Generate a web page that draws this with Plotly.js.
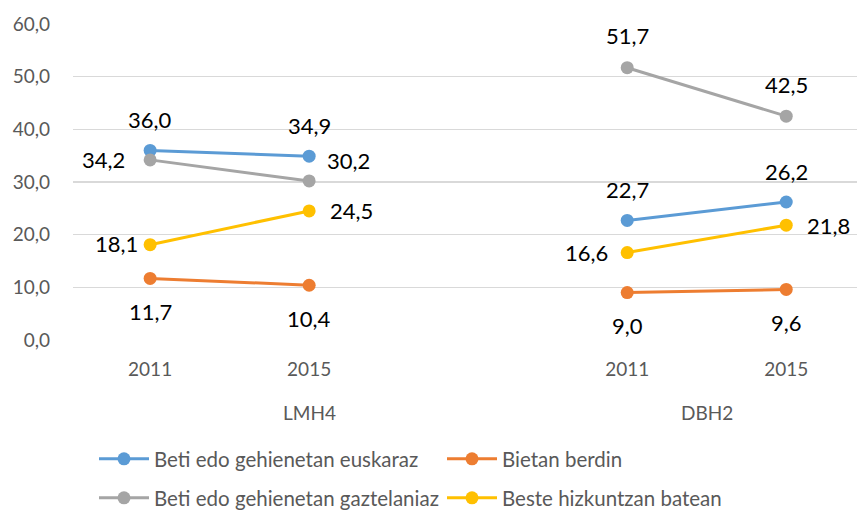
<!DOCTYPE html>
<html>
<head>
<meta charset="utf-8">
<script src="https://cdn.plot.ly/plotly-3.0.1.min.js"></script>
<style>
html,body{margin:0;padding:0;background:#fff;}
#chart{width:857px;height:512px;}
</style>
</head>
<body>
<div id="chart"></div>
<script>
// ---- data ----
const groups = ["LMH4", "DBH2"];
const years = ["2011", "2015"];
const seriesNames = [
  "Beti edo gehienetan euskaraz",
  "Bietan berdin",
  "Beti edo gehienetan gaztelaniaz",
  "Beste hizkuntzan batean"
];
// order: LMH4 2011, LMH4 2015, DBH2 2011, DBH2 2015
const euskaraz    = [36.0, 34.9, 22.7, 26.2];
const berdin      = [11.7, 10.4,  9.0,  9.6];
const gaztelaniaz = [34.2, 30.2, 51.7, 42.5];
const beste       = [18.1, 24.5, 16.6, 21.8];

// ---- styles ----
const seriesValues = [euskaraz, berdin, gaztelaniaz, beste];
const colors = ["#5B9BD5", "#ED7D31", "#A5A5A5", "#FFC000"];
const legendOf = ["legend", "legend", "legend2", "legend2"];
// label offsets in px [xshift, yshift] per series, per point
const labelShift = [
  [[0, 31], [0, 31], [0, 31], [0, 31]],
  [[0, -33], [0, -33], [0, -33], [0, -33]],
  [[-47, 0], [39, 20], [0, 32], [0, 32]],
  [[-34, 1], [42, 0], [-41, 0], [42, 0]]
];
const FONT = "Lato, 'Open Sans', sans-serif";
const TXT = "#595959";

// category slot positions: each group occupies years.length + 1 slots (gap after)
const slotsPerGroup = years.length + 1;
const xs = [], tickText = [];
groups.forEach((g, gi) => years.forEach((y, yi) => {
  xs.push(gi * slotsPerGroup + yi);
  tickText.push(y);
}));

const fmt = v => v.toFixed(1).replace(".", ",");

const traces = seriesValues.map((vals, si) => {
  const x = [], y = [];
  vals.forEach((v, i) => {
    if (i > 0 && xs[i] - xs[i - 1] > 1) { x.push(xs[i] - 1); y.push(null); }
    x.push(xs[i]); y.push(v);
  });
  return {
    type: "scatter", mode: "lines+markers", name: seriesNames[si],
    x: x, y: y, connectgaps: false,
    line: {color: colors[si], width: 3},
    marker: {color: colors[si], size: 13},
    legend: legendOf[si],
    hoverinfo: "skip"
  };
});

const annotations = [];
seriesValues.forEach((vals, si) => vals.forEach((v, i) => {
  annotations.push({
    x: xs[i], y: v, xref: "x", yref: "y", text: fmt(v), showarrow: false,
    xshift: labelShift[si][i][0], yshift: labelShift[si][i][1],
    font: {family: FONT, size: 22, color: "#000000"},
    xanchor: "center", yanchor: "middle"
  });
}));
groups.forEach((g, gi) => {
  const lo = gi * slotsPerGroup;
  const hi = Math.min(lo + slotsPerGroup - 1, xs[xs.length - 1]);
  annotations.push({
    x: (lo + hi) / 2, y: -0.231, xref: "x", yref: "paper", text: g,
    showarrow: false, xanchor: "center", yanchor: "middle",
    font: {family: FONT, size: 19, color: TXT}
  });
});

const legendCommon = {
  orientation: "h", xanchor: "left", yanchor: "middle",
  xref: "container", yref: "container",
  font: {family: FONT, size: 20.5, color: TXT},
  entrywidth: 283, entrywidthmode: "pixels", itemwidth: 50,
  bgcolor: "rgba(0,0,0,0)", traceorder: "normal"
};

const layout = {
  width: 857, height: 512,
  margin: {l: 73, r: 0, t: 24, b: 172, autoexpand: false},
  paper_bgcolor: "#ffffff", plot_bgcolor: "#ffffff",
  separators: ",.",
  font: {family: FONT, color: TXT},
  showlegend: true,
  xaxis: {
    range: [-0.485, 4.445], tickvals: xs, ticktext: tickText,
    showgrid: false, zeroline: false, showline: false, ticks: "",
    tickfont: {family: FONT, size: 19, color: TXT}, ticklabelstandoff: 16,
    fixedrange: true
  },
  yaxis: {
    range: [0, 60], dtick: 10, tickformat: ".1f",
    showgrid: true, gridcolor: "#d9d9d9", gridwidth: 1.5,
    zeroline: false, showline: false, ticks: "",
    tickfont: {family: FONT, size: 19, color: TXT}, ticklabelstandoff: 22,
    fixedrange: true
  },
  legend: Object.assign({}, legendCommon, {x: 94 / 857, y: 1 - 459 / 512}),
  legend2: Object.assign({}, legendCommon, {x: 94 / 857, y: 1 - 498 / 512}),
  annotations: annotations
};

Plotly.newPlot("chart", traces, layout, {displayModeBar: false, staticPlot: true});
</script>
</body>
</html>
